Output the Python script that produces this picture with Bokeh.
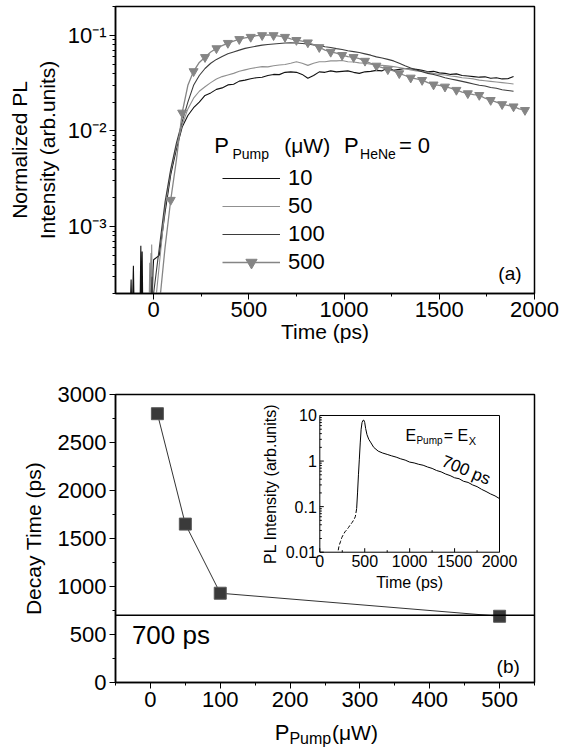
import math
from bokeh.plotting import figure
from bokeh.models import (Range1d, LogScale, FixedTicker, SingleIntervalTicker,
                          CustomJSTickFormatter, Legend, LegendItem, Label, Span)
from bokeh.layouts import column
from bokeh.embed import file_html
from bokeh.resources import INLINE
from bokeh.core.properties import value

FONT = "Liberation Sans"

# ---------------- panel (a): normalized PL transients ----------------
time_grid = list(range(0, 1891, 30))        # ps, 64 samples
time_grid_500 = list(range(0, 1951, 30))    # ps, 66 samples

noise_t_10 = [-125, -118, -113, -106, -101, -96, -72, -67, -64, -60, -56, -50, -18, -12, -8, -3]
noise_v_10 = [1e-4, 2.8e-4, 1e-4, 3.9e-4, 1e-4, 1e-4, 1e-4, 6.3e-4, 1e-4, 5.5e-4, 1e-4, 1e-4,
              1e-4, 5.3e-4, 1.5e-4, 3.5e-4]
noise_t_50 = [-40, -25, -20, -15, -10, -6, -2]
noise_v_50 = [1e-4, 1e-4, 4.2e-4, 1e-4, 6.5e-4, 1.2e-4, 1e-4]
noise_t_100 = [-20, -8, -4]
noise_v_100 = [1e-4, 3e-4, 1e-4]

pl_10 = [4.5e-4, 5.0e-4, 1.4e-3, 3.5e-3, 6.5e-3, 0.0110, 0.0145, 0.0175,
         0.0200, 0.0235, 0.0250, 0.0272, 0.0282, 0.0303, 0.0308, 0.0332,
         0.0340, 0.0352, 0.0360, 0.0365, 0.0380, 0.0390, 0.0388, 0.0410,
         0.0415, 0.0410, 0.0390, 0.0355, 0.0380, 0.0415, 0.0410, 0.0425,
         0.0415, 0.0420, 0.0425, 0.0410, 0.0400, 0.0415, 0.0420, 0.0430,
         0.0425, 0.0455, 0.0430, 0.0440, 0.0450, 0.0445, 0.0440, 0.0430,
         0.0415, 0.0420, 0.0405, 0.0400, 0.0390, 0.0395, 0.0380, 0.0375,
         0.0370, 0.0365, 0.0368, 0.0355, 0.0360, 0.0350, 0.0352, 0.0370]
pl_50 = [1.0e-4, 4.0e-4, 1.6e-3, 3.8e-3, 7.0e-3, 0.0115, 0.0170, 0.0220,
         0.0260, 0.0290, 0.0320, 0.0350, 0.0370, 0.0385, 0.0400, 0.0420,
         0.0435, 0.0450, 0.0460, 0.0470, 0.0468, 0.0480, 0.0490, 0.0495,
         0.0510, 0.0530, 0.0510, 0.0485, 0.0510, 0.0530, 0.0530, 0.0540,
         0.0540, 0.0545, 0.0530, 0.0525, 0.0515, 0.0510, 0.0500, 0.0490,
         0.0485, 0.0480, 0.0470, 0.0460, 0.0450, 0.0435, 0.0425, 0.0420,
         0.0410, 0.0400, 0.0390, 0.0385, 0.0375, 0.0370, 0.0360, 0.0355,
         0.0350, 0.0340, 0.0335, 0.0330, 0.0325, 0.0320, 0.0315, 0.0310]
pl_100 = [2.0e-4, 6.0e-4, 1.8e-3, 4.0e-3, 7.5e-3, 0.0125, 0.0200, 0.0300,
          0.0380, 0.0450, 0.0510, 0.0560, 0.0600, 0.0640, 0.0670, 0.0700,
          0.0730, 0.0750, 0.0770, 0.0790, 0.0800, 0.0810, 0.0820, 0.0830,
          0.0835, 0.0830, 0.0820, 0.0810, 0.0795, 0.0780, 0.0760, 0.0745,
          0.0725, 0.0710, 0.0690, 0.0675, 0.0660, 0.0640, 0.0620, 0.0595,
          0.0580, 0.0560, 0.0540, 0.0510, 0.0480, 0.0455, 0.0435, 0.0415,
          0.0400, 0.0390, 0.0375, 0.0360, 0.0350, 0.0340, 0.0330, 0.0320,
          0.0310, 0.0300, 0.0295, 0.0285, 0.0280, 0.0270, 0.0265, 0.0260]
pl_500 = [1.0e-4, 1.5e-4, 6.0e-4, 1.9e-3, 5.0e-3, 0.0155, 0.0300, 0.0420,
          0.0520, 0.0590, 0.0670, 0.0730, 0.0780, 0.0830, 0.0870, 0.0910,
          0.0940, 0.0960, 0.0990, 0.1000, 0.1010, 0.1000, 0.0980, 0.0960,
          0.0920, 0.0890, 0.0870, 0.0840, 0.0800, 0.0750, 0.0700, 0.0670,
          0.0650, 0.0620, 0.0600, 0.0590, 0.0570, 0.0540, 0.0510, 0.0480,
          0.0460, 0.0440, 0.0425, 0.0400, 0.0380, 0.0360, 0.0350, 0.0340,
          0.0320, 0.0305, 0.0300, 0.0290, 0.0280, 0.0268, 0.0255, 0.0247,
          0.0240, 0.0237, 0.0220, 0.0210, 0.0200, 0.0190, 0.0185, 0.0180,
          0.0170, 0.0165]
assert len(pl_10) == len(time_grid) and len(pl_50) == len(time_grid)
assert len(pl_100) == len(time_grid) and len(pl_500) == len(time_grid_500)

power_labels = ["10", "50", "100", "500"]

# ---------------- panel (b): decay time vs pump power ----------------
pump_power = [10, 50, 100, 500]        # uW
decay_time = [2800, 1650, 930, 690]    # ps
exciton_limit = 700                    # ps

# inset: PL transient at E_Pump = E_X
inset_t_rise = [205, 215, 230, 245, 260, 280, 300, 320, 340, 360, 380, 395, 410]
inset_v_rise = [0.011, 0.014, 0.017, 0.021, 0.024, 0.028, 0.031, 0.035, 0.040, 0.045, 0.052, 0.060, 0.090]
inset_t = [410, 420, 430, 440, 450, 460, 470, 480, 490, 500, 510, 525, 545, 570, 600, 650, 700, 750,
           800, 850, 900, 950, 1000, 1050, 1100, 1150, 1200, 1250, 1300, 1350, 1400, 1450, 1500,
           1550, 1600, 1650, 1700, 1750, 1800, 1850, 1900, 1950, 2000]
inset_v = [0.09, 0.2, 0.5, 1.1, 2.5, 5.0, 7.0, 7.8, 7.9, 7.0, 5.2, 3.8, 3.0, 2.5, 2.0, 1.65, 1.5, 1.4,
           1.3, 1.22, 1.12, 1.05, 0.95, 0.91, 0.85, 0.81, 0.74, 0.69, 0.62, 0.58, 0.52, 0.48, 0.43,
           0.41, 0.36, 0.34, 0.30, 0.275, 0.24, 0.215, 0.19, 0.172, 0.15]
inset_xlim = [0, 2000]
inset_ylim = [0.01, 10]
inset_xticks = [0, 500, 1000, 1500, 2000]
inset_yticks = [0.01, 0.1, 1, 10]
inset_ytick_labels = ["0.01", "0.1", "1", "10"]

# ---------------- styling helpers ----------------
def style(p):
    p.outline_line_color = "black"
    p.outline_line_width = 1.5
    p.grid.visible = False
    p.background_fill_color = "white"
    for ax in p.axis:
        ax.axis_line_width = 1.5
        ax.axis_line_color = "black"
        ax.major_tick_line_color = "black"
        ax.minor_tick_line_color = "black"
        ax.major_tick_out = 6
        ax.major_tick_in = 0
        ax.minor_tick_out = 3
        ax.minor_tick_in = 0
        ax.major_label_text_font = FONT
        ax.major_label_text_font_size = "22px"
        ax.major_label_text_color = "black"
        ax.major_label_standoff = 3
        ax.axis_label_text_font = FONT
        ax.axis_label_text_font_size = "21px"
        ax.axis_label_text_font_style = "normal"
        ax.axis_label_text_color = "black"
        ax.axis_label_standoff = 4

# ---------------- panel (a) ----------------
pa = figure(frame_width=419, frame_height=287, x_range=Range1d(-200, 2000),
            y_range=Range1d(2e-4, 0.2), y_axis_type="log", title=None,
            output_backend="svg", toolbar_location=None,
            min_border_left=115, min_border_right=39, min_border_top=6, min_border_bottom=88)
style(pa)
pa.xaxis.ticker = SingleIntervalTicker(interval=500, num_minor_ticks=2)
pa.xaxis.axis_label = "Time (ps)"
pa.xaxis.major_label_standoff = 2
pa.xaxis.axis_label_standoff = 0
pa.yaxis.axis_label = "Normalized PL\nIntensity (arb.units)"
pa.yaxis.axis_label_standoff = 6
minor_log = [m * 10.0 ** e for e in (-4, -3, -2, -1) for m in range(2, 10)]
pa.yaxis.ticker = FixedTicker(ticks=[1e-3, 1e-2, 1e-1], minor_ticks=minor_log)
pa.yaxis.formatter = CustomJSTickFormatter(code="""
const sup = {"-": "\u207b", "0": "\u2070", "1": "\u00b9", "2": "\u00b2", "3": "\u00b3",
             "4": "\u2074", "5": "\u2075", "6": "\u2076", "7": "\u2077", "8": "\u2078", "9": "\u2079"};
const e = Math.round(Math.log10(tick));
return "10" + String(e).split("").map(c => sup[c]).join("");
""")

c10, c50, c100, c500 = "#111111", "#909090", "#3d3d3d", "#858585"
r10 = pa.line(noise_t_10 + time_grid, noise_v_10 + pl_10, line_color=c10, line_width=1.1)
r50 = pa.line(noise_t_50 + time_grid, noise_v_50 + pl_50, line_color=c50, line_width=1.1)
r100 = pa.line(noise_t_100 + time_grid, noise_v_100 + pl_100, line_color=c100, line_width=1.1)
r500 = pa.line(time_grid_500, pl_500, line_color=c500, line_width=1.3)
r500m = pa.scatter(time_grid_500[1::2], pl_500[1::2], marker="inverted_triangle", size=9,
                   fill_color=c500, line_color=c500)

legend = Legend(items=[LegendItem(label=power_labels[0], renderers=[r10]),
                       LegendItem(label=power_labels[1], renderers=[r50]),
                       LegendItem(label=power_labels[2], renderers=[r100]),
                       LegendItem(label=power_labels[3], renderers=[r500, r500m])],
                location=(107, 17), glyph_width=58, glyph_height=28, label_height=28,
                label_standoff=8, spacing=0, padding=0, margin=0,
                border_line_alpha=0, background_fill_alpha=0,
                label_text_font=FONT, label_text_font_size="22px", label_text_color="black")
pa.add_layout(legend)

def lab(p, x, y, text, size, **kw):
    p.add_layout(Label(x=x, y=y, text=text, text_font=FONT, text_font_size=size,
                       text_color="black", text_baseline="middle", **kw))

lab(pa, 319, 0.0070, "P", "22px")
lab(pa, 414, 0.0057, "Pump", "14px")
lab(pa, 686, 0.0070, "(\u03bcW)", "21px")
lab(pa, 1000, 0.0070, "P", "22px")
lab(pa, 1084, 0.0057, "HeNe", "14px")
lab(pa, 1288, 0.0070, "= 0", "22px")
lab(pa, 1932, 3.2e-4, "(a)", "19px", text_align="right")

# ---------------- panel (b) ----------------
pb_xrange = Range1d(-50, 550)
pb = figure(frame_width=419, frame_height=288, x_range=pb_xrange, title=None,
            y_range=Range1d(0, 3000), output_backend="svg", toolbar_location=None,
            min_border_left=115, min_border_right=39, min_border_top=13, min_border_bottom=37)
style(pb)
pb.xaxis.ticker = SingleIntervalTicker(interval=100, num_minor_ticks=2)
pb.xaxis.major_label_standoff = 3
pb.yaxis.ticker = SingleIntervalTicker(interval=500, num_minor_ticks=2)
pb.yaxis.axis_label = "Decay Time (ps)"
pb.yaxis.axis_label_standoff = 10

pb.add_layout(Span(location=exciton_limit, dimension="width", line_color="black", line_width=1.5))
pb.line(pump_power, decay_time, line_color="#333333", line_width=1)
pb.scatter(pump_power, decay_time, marker="square", size=12, fill_color="#3a3a3a", line_color="#5a5a5a")

lab(pb, -26.5, 495, "700 ps", "26px")
lab(pb, 529, 165, "(b)", "19px", text_align="right")

# ---- inset drawn through its own (extra) ranges inside panel (b) ----
fx0, fx1 = 0.4876, 0.9165   # inset frame as fraction of main frame width
fy0, fy1 = 0.4524, 0.9271   # inset frame as fraction of main frame height
ix_span = (inset_xlim[1] - inset_xlim[0]) / (fx1 - fx0)
ix_start = inset_xlim[0] - fx0 * ix_span
dec = math.log10(inset_ylim[1] / inset_ylim[0])
ly_span = dec / (fy1 - fy0)
ly_start = math.log10(inset_ylim[0]) - fy0 * ly_span
pb.extra_x_ranges = {"ix": Range1d(ix_start, ix_start + ix_span)}
pb.extra_y_ranges = {"iy": Range1d(10 ** ly_start, 10 ** (ly_start + ly_span))}
pb.extra_y_scales = {"iy": LogScale()}
IN = dict(x_range_name="ix", y_range_name="iy")

pb.quad(left=[inset_xlim[0]], right=[inset_xlim[1]], bottom=[inset_ylim[0]], top=[inset_ylim[1]],
        fill_color="white", fill_alpha=1, line_color="black", line_width=1, **IN)

dx_major = 4 * ix_span / 419
dx_minor = 2 * ix_span / 419
fy_major = 10 ** (4 * ly_span / 288)
fy_minor = 10 ** (2 * ly_span / 288)
x_minor = [(a + b) / 2 for a, b in zip(inset_xticks[:-1], inset_xticks[1:])]
y_minor = [m * t for t in inset_yticks[:-1] for m in range(2, 10)]
pb.segment(x0=inset_xticks, y0=[inset_ylim[0]] * len(inset_xticks), x1=inset_xticks,
           y1=[inset_ylim[0] * fy_major] * len(inset_xticks), line_color="black", line_width=1, **IN)
pb.segment(x0=x_minor, y0=[inset_ylim[0]] * len(x_minor), x1=x_minor,
           y1=[inset_ylim[0] * fy_minor] * len(x_minor), line_color="black", line_width=1, **IN)
pb.segment(x0=[inset_xlim[0]] * len(inset_yticks), y0=inset_yticks,
           x1=[inset_xlim[0] + dx_major] * len(inset_yticks), y1=inset_yticks,
           line_color="black", line_width=1, **IN)
pb.segment(x0=[inset_xlim[0]] * len(y_minor), y0=y_minor,
           x1=[inset_xlim[0] + dx_minor] * len(y_minor), y1=y_minor,
           line_color="black", line_width=1, **IN)

pb.line(inset_t_rise, inset_v_rise, line_color="black", line_width=1, line_dash="4 2", **IN)
pb.line(inset_t, inset_v, line_color="black", line_width=1, **IN)

pb.text(x=inset_xticks, y=[inset_ylim[0]] * len(inset_xticks), text=[str(v) for v in inset_xticks],
        text_align="center", text_baseline="top", y_offset=3, text_font=value(FONT),
        text_font_size="16px", text_color="black", **IN)
pb.text(x=[inset_xlim[0]] * len(inset_yticks), y=inset_yticks, text=inset_ytick_labels,
        text_align="right", text_baseline="middle", x_offset=-3, text_font=value(FONT),
        text_font_size="16px", text_color="black", **IN)
pb.text(x=[1000], y=[0.00214], text=["Time (ps)"], text_align="center", text_baseline="middle",
        text_font=value(FONT), text_font_size="16px", text_color="black", **IN)
pb.text(x=[-548], y=[10 ** -0.5], text=["PL Intensity (arb.units)"], angle=math.pi / 2,
        text_align="center", text_baseline="middle", text_font=value(FONT),
        text_font_size="16px", text_color="black", **IN)
pb.text(x=[953], y=[3.6], text=["E"], text_baseline="middle", text_font=value(FONT),
        text_font_size="16px", text_color="black", **IN)
pb.text(x=[1075], y=[2.76], text=["Pump"], text_baseline="middle", text_font=value(FONT),
        text_font_size="10px", text_color="black", **IN)
pb.text(x=[1380], y=[3.6], text=["= E"], text_baseline="middle", text_font=value(FONT),
        text_font_size="16px", text_color="black", **IN)
pb.text(x=[1658], y=[2.8], text=["X"], text_baseline="middle", text_font=value(FONT),
        text_font_size="11px", text_color="black", **IN)
pb.text(x=[1628], y=[0.63], text=["700 ps"], angle=-0.39, text_align="center",
        text_baseline="middle", text_font=value(FONT), text_font_size="17px",
        text_color="black", **IN)

# ---------------- x-axis title of panel (b), with subscript ----------------
# same frame geometry and x range as panel (b), so positions are in P_Pump units
pt = figure(frame_width=419, frame_height=28, x_range=pb_xrange, y_range=Range1d(0, 28),
            output_backend="svg", toolbar_location=None, title=None,
            min_border_left=115, min_border_right=39, min_border_top=0, min_border_bottom=0,
            x_axis_type=None, y_axis_type=None)
pt.outline_line_color = None
pt.grid.visible = False
pt.text(x=[178], y=[15.5], text=["P"], text_baseline="middle", text_font=value(FONT),
        text_font_size="22px", text_color="black")
pt.text(x=[199], y=[9.5], text=["Pump"], text_baseline="middle", text_font=value(FONT),
        text_font_size="16px", text_color="black")
pt.text(x=[260], y=[15.5], text=["(\u03bcW)"], text_baseline="middle", text_font=value(FONT),
        text_font_size="21px", text_color="black")

layout = column(pa, pb, pt)
open("out.html", "w").write(file_html(layout, INLINE))
